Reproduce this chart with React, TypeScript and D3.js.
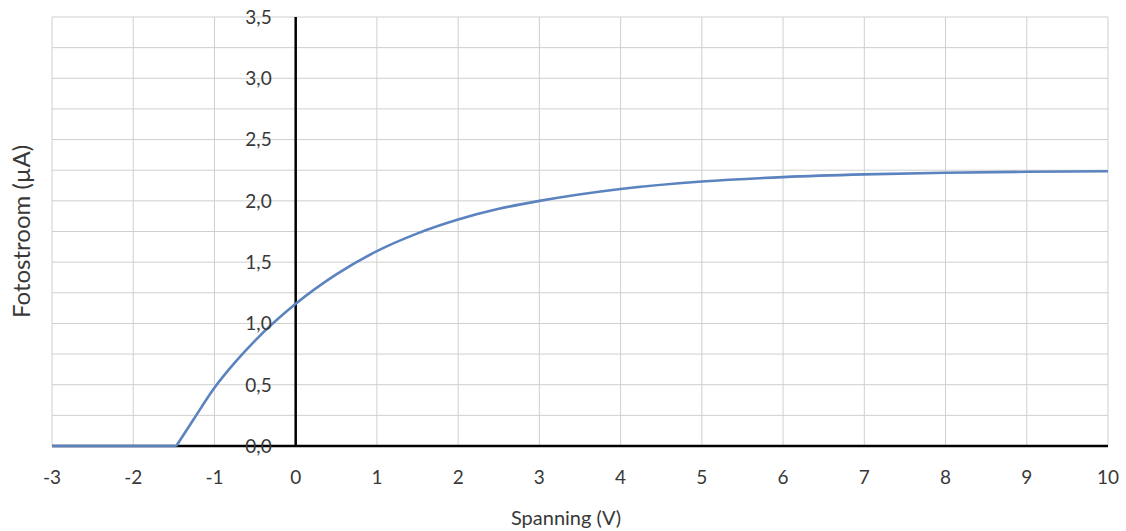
import React from "react";
import * as d3 from "d3";

const voltage = [-3, -2, -1.47, -1.25, -1, -0.75, -0.5, 0, 0.5, 1, 1.5, 2, 2.5, 3, 4, 5, 6, 7, 8, 9, 10];
const current = [0, 0, 0, 0.225, 0.475, 0.68, 0.86, 1.16, 1.4, 1.59, 1.735, 1.848, 1.935, 2.0, 2.097, 2.158, 2.194, 2.216, 2.229, 2.237, 2.242];
const xTicks = [-3, -2, -1, 0, 1, 2, 3, 4, 5, 6, 7, 8, 9, 10];
const yTicks = [0, 0.5, 1, 1.5, 2, 2.5, 3, 3.5];
const yGrid = d3.range(0, 3.5001, 0.25);
const xTitle = "Spanning (V)";
const yTitle = "Fotostroom (µA)";

const W = 1126;
const H = 531;
const FONT = "Lato, 'Open Sans', sans-serif";

export default function App() {
  const x = d3.scaleLinear().domain([-3, 10]).range([52, 1108]);
  const y = d3.scaleLinear().domain([0, 3.5]).range([446, 17]);
  const pts = voltage.map((v, i) => [v, current[i]] as [number, number]);
  const kink = current.findIndex((c, i) => c === 0 && (current[i + 1] ?? 0) > 0);
  const flat = pts.slice(0, kink + 1);
  const rise = pts.slice(kink);
  const lin = d3.line<[number, number]>().x((d) => x(d[0])).y((d) => y(d[1]));
  const smooth = d3
    .line<[number, number]>()
    .x((d) => x(d[0]))
    .y((d) => y(d[1]))
    .curve(d3.curveMonotoneX);
  const fmt = (v: number) => v.toFixed(1).replace(".", ",");

  return (
    <svg
      width={W}
      height={H}
      style={{ position: "absolute", left: 0, top: 0, background: "#fff" }}
    >
      <g>
        {yGrid.map((t) => (
          <line key={"h" + t} x1={x(-3)} x2={x(10)} y1={y(t)} y2={y(t)} stroke="#cfcfcf" strokeWidth={1} />
        ))}
        {xTicks.map((t) => (
          <line key={"v" + t} x1={x(t)} x2={x(t)} y1={y(0)} y2={y(3.5)} stroke="#cfcfcf" strokeWidth={1} />
        ))}
      </g>
      <line x1={x(-3)} x2={x(10)} y1={y(0)} y2={y(0)} stroke="#000" strokeWidth={2.5} />
      <line x1={x(0)} x2={x(0)} y1={y(0)} y2={y(3.5)} stroke="#000" strokeWidth={2.5} />
      <path d={(lin(flat) || "") + (smooth(rise) || "")} fill="none" stroke="#5b83c0" strokeWidth={2.6} strokeLinejoin="round" />
      {yTicks.map((t) => (
        <text key={"yl" + t} x={x(0) - 24} y={y(t)} dy="0.36em" textAnchor="end" fontFamily={FONT} fontSize={19} fill="#383838">
          {fmt(t)}
        </text>
      ))}
      {xTicks.map((t) => (
        <text key={"xl" + t} x={x(t)} y={477} dy="0.36em" textAnchor="middle" fontFamily={FONT} fontSize={19} fill="#383838">
          {t}
        </text>
      ))}
      <text x={566} y={518} dy="0.36em" textAnchor="middle" fontFamily={FONT} fontSize={20} fill="#383838">
        {xTitle}
      </text>
      <text
        transform={`translate(21, ${(y(0) + y(3.5)) / 2}) rotate(-90)`}
        dy="0.36em"
        textAnchor="middle"
        fontFamily={FONT}
        fontSize={24}
        fill="#383838"
      >
        {yTitle}
      </text>
    </svg>
  );
}
